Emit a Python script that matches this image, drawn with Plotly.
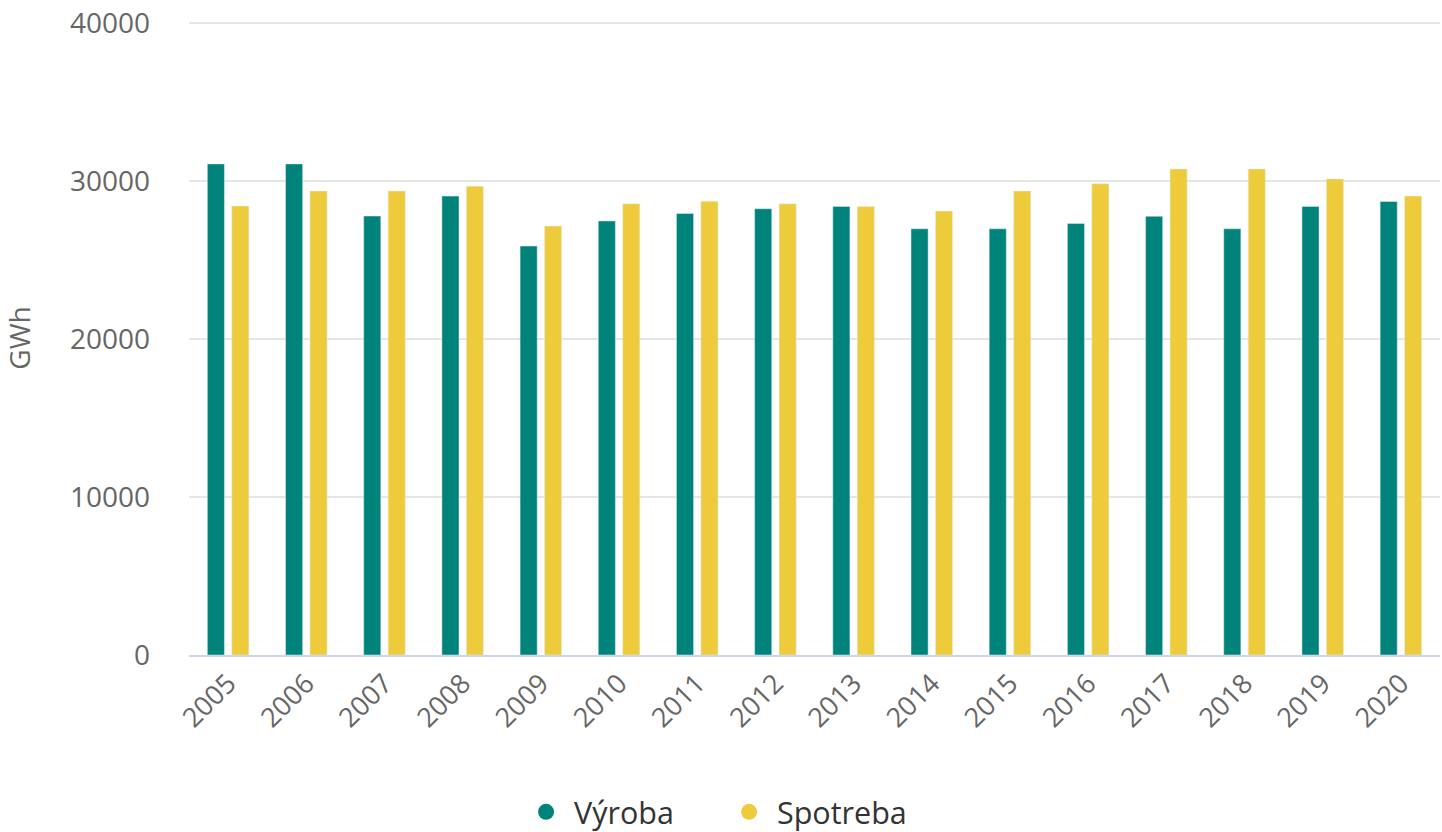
import plotly.graph_objects as go

years = [str(y) for y in range(2005, 2021)]
vyroba = [31100, 31100, 27800, 29060, 25900, 27490, 27960, 28260, 28410, 26990, 26990, 27330, 27780, 26990, 28410, 28720]
spotreba = [28430, 29380, 29380, 29690, 27160, 28570, 28740, 28570, 28410, 28110, 29380, 29840, 30780, 30780, 30150, 29060]
y_ticks = [0, 10000, 20000, 30000, 40000]

c_v = "#00837a"
c_s = "#eecb3b"

fig = go.Figure()
fig.add_trace(go.Bar(x=years, y=vyroba, name="Výroba", marker_color=c_v, showlegend=False))
fig.add_trace(go.Bar(x=years, y=spotreba, name="Spotreba", marker_color=c_s, showlegend=False))
# legend-only entries with circle symbols
fig.add_trace(go.Scatter(x=[None], y=[None], mode="markers", name=" Výroba",
                         marker=dict(color=c_v, size=26, symbol="circle")))
fig.add_trace(go.Scatter(x=[None], y=[None], mode="markers", name=" Spotreba",
                         marker=dict(color=c_s, size=26, symbol="circle")))

fig.update_layout(
    width=1442, height=832,
    margin=dict(l=189, r=2, t=21, b=177, autoexpand=False),
    paper_bgcolor="white", plot_bgcolor="white",
    font=dict(family="Open Sans", color="#666666"),
    barmode="group", bargap=0.375, bargroupgap=0.3,
    showlegend=True,
    legend=dict(orientation="h", x=0.4317, xanchor="center", y=-0.2476, yanchor="middle",
                font=dict(size=30.5, color="#333333"), itemsizing="trace", tracegroupgap=0,
                entrywidth=158),
    xaxis=dict(tickangle=-45, tickfont=dict(size=27, color="#666666"),
               showline=True, linecolor="#ccd6eb", linewidth=2, ticks="",
               showgrid=False),
    yaxis=dict(range=[0, 40150], tickvals=y_ticks,
               tickformat="d", tickfont=dict(size=28, color="#666666"),
               showgrid=True, gridcolor="#e6e6e6", gridwidth=2, zeroline=False,
               ticklabeloverflow="allow",
               title=dict(text="GWh", font=dict(size=28, color="#666666"), standoff=31),
               ticklabelstandoff=38),
)

fig.write_html("out.html", config={"displayModeBar": False},
               post_script="document.body.style.margin='0';document.body.style.overflow='hidden';")
